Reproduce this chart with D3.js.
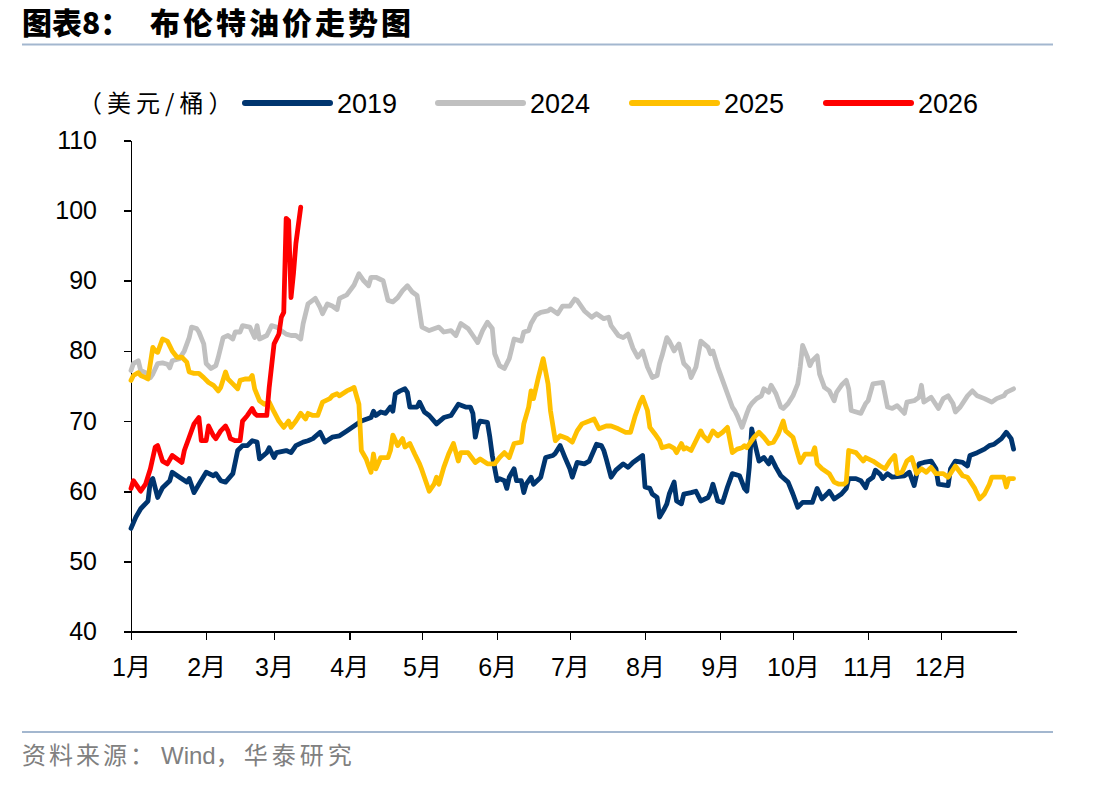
<!DOCTYPE html>
<html>
<head>
<meta charset="utf-8">
<script src="https://cdnjs.cloudflare.com/ajax/libs/d3/7.8.5/d3.min.js"></script>
<style>
  html, body { margin: 0; padding: 0; background: #fff; }
  svg { display: block; }
  .axis path, .axis line { stroke: #000; stroke-width: 1.6; shape-rendering: crispEdges; }
  .axis text { font-family: "Liberation Sans", Arial, "Noto Sans CJK SC", sans-serif; font-size: 25px; fill: #000; }
</style>
</head>
<body>
<svg id="chart" width="1112" height="786"></svg>
<script>
// Brent price, USD/bbl, by day of year (0 = 1 Jan)
const monthStarts = [0, 31, 59, 90, 120, 151, 181, 212, 243, 273, 304, 334];
const monthLabels = ['1月', '2月', '3月', '4月', '5月', '6月', '7月', '8月', '9月', '10月', '11月', '12月'];
const yTicks = [40, 50, 60, 70, 80, 90, 100, 110];

const days2019 = [0,2,4,7,8,9,11,13,16,17,20,23,24,26,28,31,34,35,37,39,42,44,46,48,50,52,53,56,57,59,60,64,66,68,71,73,75,78,80,83,86,89,92,95,99,100,101,103,105,107,108,109,111,113,114,115,118,119,121,123,126,129,132,135,138,140,141,142,143,144,147,148,149,151,152,154,155,156,158,159,161,162,163,165,166,169,171,174,175,177,179,181,182,184,187,189,192,194,195,196,198,200,203,205,207,211,212,214,215,217,218,220,221,222,224,225,227,228,231,233,235,238,239,240,242,244,246,248,251,253,254,255,256,257,259,261,263,264,266,268,271,273,275,277,281,283,285,287,288,290,293,295,296,299,301,303,304,306,307,309,310,312,314,319,321,323,325,327,330,332,333,337,338,340,343,345,346,349,352,354,356,359,361,363,364];
const brent2019 = [54.7,56.3,57.5,58.6,61.5,61.8,59.1,60.5,61.5,62.7,62.0,61.3,61.8,59.8,61.0,62.7,62.2,62.5,61.5,61.3,62.5,65.8,66.5,66.5,67.2,67.0,64.6,65.5,66.2,64.8,65.5,65.8,65.5,66.5,67.0,67.2,67.5,68.4,67.0,67.7,67.9,68.6,69.3,70.0,70.5,71.4,70.8,71.3,71.1,72.0,71.4,73.9,74.3,74.6,74.1,72.0,72.0,72.7,71.3,70.8,69.6,70.5,70.8,72.4,72.0,72.0,71.1,67.7,69.3,70.0,69.8,67.7,65.1,61.5,61.8,61.5,60.4,62.0,63.2,61.5,61.5,59.8,61.0,62.0,61.0,62.0,64.8,65.1,65.4,66.5,64.8,63.2,62.0,64.1,63.9,64.3,66.7,66.5,65.8,64.6,62.0,63.0,63.9,63.4,64.1,65.1,60.6,60.4,59.6,59.1,56.3,57.5,58.2,59.6,61.3,58.6,58.2,59.6,59.8,60.0,58.6,59.1,59.8,61.0,58.6,58.4,60.6,62.5,62.2,60.4,60.0,63.4,68.9,67.2,64.3,64.8,63.9,64.8,63.4,62.2,61.3,59.6,57.7,58.4,58.4,60.4,58.9,59.6,60.0,58.9,59.6,60.4,61.8,61.8,61.5,60.5,61.5,62.0,63.0,62.4,61.8,62.5,62.0,62.2,62.7,60.8,63.9,64.1,64.3,63.2,61.0,60.8,63.2,64.3,64.1,63.6,65.1,65.5,66.0,66.5,66.7,67.5,68.4,67.5,66.0];

const days2024 = [0,1,3,4,6,8,9,11,13,15,16,17,20,22,24,25,27,28,30,31,33,35,36,38,40,42,43,45,46,49,51,52,53,56,58,60,62,64,66,68,70,71,73,76,78,79,81,83,85,86,89,92,94,96,98,99,101,104,106,108,110,112,114,116,118,120,123,127,129,132,134,136,139,141,143,145,147,149,150,152,154,156,157,158,161,162,164,165,167,169,172,173,176,178,181,183,184,187,190,192,195,197,198,201,203,205,207,209,211,213,215,217,218,219,221,222,224,226,228,230,231,233,235,238,239,240,242,244,246,248,249,250,252,254,255,256,258,260,261,263,264,266,268,269,271,273,275,276,277,279,280,281,283,284,286,288,290,291,293,295,296,297,301,303,304,306,310,312,314,316,319,320,323,325,326,327,330,333,335,337,339,340,342,345,347,349,352,355,357,360,361,364];
const brent2024 = [77.2,78.2,78.6,77.2,76.9,76.2,76.7,78.2,78.3,78.1,77.6,78.6,78.9,80.0,81.9,83.4,83.2,82.7,81.0,78.2,77.5,77.9,79.1,81.9,82.2,81.7,82.7,82.7,83.6,83.4,81.9,83.6,81.7,82.2,83.6,83.4,82.9,82.4,82.2,82.2,81.7,83.9,86.7,87.5,86.2,85.3,86.7,86.4,85.9,87.5,88.0,89.4,91.0,90.0,89.3,90.5,90.5,90.0,87.2,87.0,87.6,88.6,89.3,88.4,87.9,83.4,82.9,83.4,82.7,82.9,82.2,83.9,83.2,82.2,81.2,82.9,84.1,83.2,79.6,77.9,77.5,78.9,80.3,81.7,81.4,82.7,82.9,83.9,85.1,85.5,85.7,86.0,85.3,86.4,86.4,87.4,87.2,85.7,84.8,85.3,84.6,84.8,83.6,82.2,81.9,82.4,80.4,79.1,80.0,77.7,76.2,76.5,78.2,79.3,81.9,81.4,80.0,81.0,78.2,77.5,76.2,77.7,81.4,80.5,79.6,80.0,77.7,75.8,73.9,72.0,71.5,70.8,69.1,71.1,72.0,72.5,73.2,73.6,74.6,74.1,75.1,73.9,72.0,71.8,72.5,73.6,75.3,77.7,80.8,79.1,77.9,78.6,79.3,76.7,74.8,74.3,72.9,74.1,75.1,75.8,74.6,71.5,71.1,72.5,72.9,75.3,75.5,72.0,71.8,72.2,71.1,72.7,72.9,73.4,75.1,72.7,73.4,71.8,73.2,73.6,72.5,71.3,72.0,73.6,74.3,73.6,73.2,72.7,73.2,73.6,74.1,74.6];

const days2025 = [0,1,3,4,6,7,9,10,11,13,15,17,19,21,23,24,26,28,30,32,34,36,37,39,40,42,44,45,47,49,50,51,53,55,57,59,61,63,65,66,68,70,72,73,75,77,79,82,83,85,86,89,91,92,94,95,97,98,99,100,101,103,106,107,108,110,112,113,115,117,119,120,122,123,125,126,127,129,131,133,135,136,139,142,144,147,150,152,154,156,158,161,162,164,165,166,168,170,172,173,175,177,180,182,184,186,189,191,193,196,198,201,204,206,208,210,211,213,214,216,218,219,222,224,225,227,228,229,231,233,235,236,238,240,242,244,246,248,250,252,253,254,257,259,261,263,265,267,269,270,273,275,276,278,281,282,283,285,288,290,292,294,295,296,299,301,302,303,306,309,311,313,315,316,318,320,322,324,326,328,330,332,335,337,340,343,345,348,350,352,354,355,359,360,361,362,364];
const brent2025 = [75.8,76.5,76.9,76.5,76.2,76.0,80.5,80.0,79.8,81.7,81.4,80.0,79.1,79.1,78.4,77.0,76.8,76.8,76.2,75.5,75.1,74.3,74.8,77.0,76.0,75.3,74.6,75.8,76.0,76.0,76.5,74.6,72.9,72.4,72.7,71.3,70.0,69.1,70.0,69.1,70.0,71.1,70.3,71.1,70.8,70.8,72.7,73.2,73.6,73.9,73.6,74.3,74.6,74.8,72.4,65.8,64.6,63.6,62.7,65.3,63.2,64.8,64.8,65.8,68.0,66.5,67.5,66.3,66.8,65.3,63.9,63.0,61.0,60.0,61.0,62.0,61.0,63.4,65.3,66.8,64.3,65.5,65.5,64.1,64.6,63.9,63.9,64.8,65.5,64.8,66.8,67.0,69.6,72.0,74.3,73.2,76.2,78.9,75.3,71.5,67.2,67.9,67.5,67.0,68.6,69.6,70.0,70.3,68.9,69.3,69.3,68.9,68.4,68.4,70.8,72.7,73.4,71.5,69.1,68.2,67.2,66.2,66.5,66.1,65.5,66.8,66.0,66.2,65.8,67.2,68.6,67.9,67.2,68.6,67.9,68.4,69.1,65.5,66.0,66.2,66.5,66.2,67.7,68.4,67.7,66.8,67.0,68.2,70.0,68.6,67.7,65.3,64.1,65.3,65.3,66.2,63.9,63.2,62.5,61.3,61.0,61.0,61.3,65.8,65.5,64.7,64.3,64.8,64.3,63.6,63.2,64.3,65.1,62.5,62.7,64.3,64.8,62.5,63.2,62.7,63.4,62.5,62.5,62.0,63.6,62.2,62.0,60.4,58.9,59.6,61.0,62.0,62.0,62.0,60.6,61.8,61.8];

const days2026 = [0,1,4,6,8,10,11,13,15,17,19,21,22,24,26,28,29,31,32,34,35,37,39,40,41,43,45,46,48,50,51,52,55,56,57,59,61,62,63,64,65,66,67,68,70];
const brent2026 = [60.4,61.5,60.0,61.0,63.2,66.3,66.5,64.3,63.9,65.1,64.6,64.1,65.8,67.7,69.6,70.5,67.2,67.2,69.3,67.9,67.5,68.6,69.3,68.6,67.5,67.2,67.2,70.0,70.8,71.8,71.1,70.8,70.8,70.8,74.8,81.0,82.4,84.8,85.5,98.9,98.6,87.6,91.0,95.3,100.5];

const seriesNames = ['2019', '2024', '2025', '2026'];
const seriesColors = ['#00356f', '#c0c0c0', '#ffc000', '#ff0000'];
const seriesDays = [days2019, days2024, days2025, days2026];
const seriesValues = [brent2019, brent2024, brent2025, brent2026];

const series = seriesNames.map((name, i) => ({
  name,
  color: seriesColors[i],
  points: d3.zip(seriesDays[i], seriesValues[i])
}));

const svg = d3.select('#chart');
const plot = { left: 131, right: 1016, top: 140.5, bottom: 631.5 };

const x = d3.scaleLinear().domain([0, 365]).range([plot.left, plot.right]);
const y = d3.scaleLinear().domain([40, 110]).range([plot.bottom, plot.top]);

// titre + filets
svg.append('text')
  .attr('x', 22).attr('y', 34)
  .style('font-family', '"Noto Sans CJK SC", sans-serif')
  .style('font-weight', 900)
  .style('font-size', '30px')
  .style('fill', '#000')
  .text('图表8：');
svg.append('text')
  .attr('x', 150).attr('y', 34)
  .style('font-family', '"Noto Sans CJK SC", sans-serif')
  .style('font-weight', 900)
  .style('font-size', '30px')
  .style('letter-spacing', '3px')
  .style('fill', '#000')
  .text('布伦特油价走势图');

[44.5, 732].forEach(yy => {
  svg.append('line')
    .attr('x1', 22).attr('x2', 1053)
    .attr('y1', yy).attr('y2', yy)
    .style('stroke', '#a3b7cf')
    .style('stroke-width', 2.2);
});

// source : le chinois est espace, "Wind" non
const source = svg.append('text')
  .attr('x', 22).attr('y', 764)
  .style('font-family', '"Noto Sans CJK SC", sans-serif')
  .style('font-size', '24px')
  .style('fill', '#808080');
source.append('tspan').style('letter-spacing', '3px').text('资料来源：');
source.append('tspan').attr('dx', 4)
  .style('font-family', '"Liberation Sans", Arial, sans-serif')
  .text('Wind');
source.append('tspan').style('letter-spacing', '4px').text('，华泰研究');

// legende
svg.append('text')
  .attr('x', 78).attr('y', 112)
  .style('font-family', '"Noto Sans CJK SC", sans-serif')
  .style('font-size', '24px')
  .style('letter-spacing', '5px')
  .style('fill', '#000')
  .text('（美元/桶）');

const legendX = [245, 438, 632, 826];
const legend = svg.selectAll('g.legend')
  .data(series)
  .enter()
  .append('g')
  .attr('class', 'legend')
  .attr('transform', (d, i) => `translate(${legendX[i]},103)`);

legend.append('line')
  .attr('x1', 0).attr('x2', 85)
  .style('stroke', d => d.color)
  .style('stroke-width', 6)
  .style('stroke-linecap', 'round');

legend.append('text')
  .attr('x', 92).attr('dy', '0.36em')
  .style('font-family', '"Liberation Sans", Arial, sans-serif')
  .style('font-size', '27px')
  .style('fill', '#000')
  .text(d => d.name);

// axes
svg.append('g')
  .attr('class', 'axis')
  .attr('transform', `translate(${plot.left},0)`)
  .call(d3.axisLeft(y).tickValues(yTicks).tickSize(7).tickPadding(27).tickSizeOuter(0));

svg.append('g')
  .attr('class', 'axis')
  .attr('transform', `translate(0,${plot.bottom})`)
  .call(d3.axisBottom(x)
    .tickValues(monthStarts)
    .tickFormat((d, i) => monthLabels[i])
    .tickSize(8)
    .tickPadding(19)
    .tickSizeOuter(0));

// courbes
const line = d3.line()
  .x(d => x(d[0]))
  .y(d => y(d[1]));

svg.selectAll('path.series')
  .data(series)
  .enter()
  .append('path')
  .attr('class', 'series')
  .attr('d', d => line(d.points))
  .style('fill', 'none')
  .style('stroke', d => d.color)
  .style('stroke-width', 4.8)
  .style('stroke-linejoin', 'round')
  .style('stroke-linecap', 'round');
</script>
</body>
</html>
